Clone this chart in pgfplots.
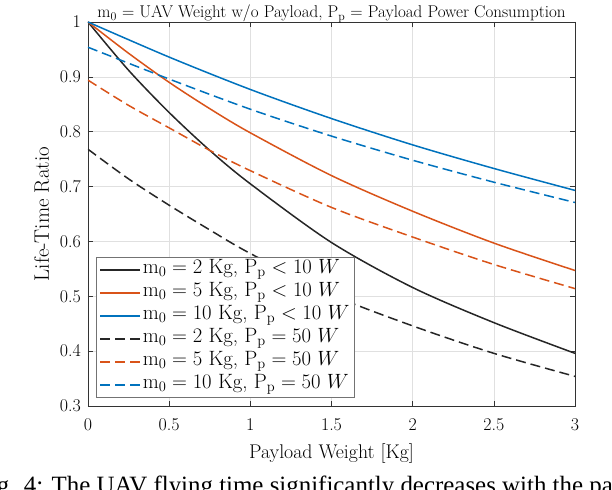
\documentclass[border=0pt]{standalone}
\usepackage{fontspec}
\newfontfamily\capfont{Liberation Serif}
\usepackage{pgfplots}
\pgfplotsset{compat=1.18}
\definecolor{mblue}{HTML}{0072BD}
\definecolor{morange}{HTML}{D95319}
\definecolor{mblack}{HTML}{262626}
\begin{document}
\begin{tikzpicture}
\begin{axis}[
  at={(0,0)}, anchor=south west,
  scale only axis, width=487bp, height=384bp,
  xmin=0, xmax=3, ymin=0.3, ymax=1,
  xtick={0,0.5,1,1.5,2,2.5,3},
  ytick={0.3,0.4,0.5,0.6,0.7,0.8,0.9,1},
  xticklabels={0,0.5,1,1.5,2,2.5,3},
  yticklabels={0.3,0.4,0.5,0.6,0.7,0.8,0.9,1},
  tick align=inside, xtick pos=both, ytick pos=both,
  major tick length=5bp,
  tick style={black!80, line width=0.6bp},
  axis line style={black!80, line width=0.8bp},
  grid=major, grid style={black!12, line width=0.6bp},
  xticklabel style={font=\fontsize{18}{21}\selectfont, inner sep=0pt, anchor=north, yshift=-12bp},
  yticklabel style={font=\fontsize{18}{21}\selectfont, inner sep=0pt, anchor=east, xshift=-7bp},
  title={$\mathrm{m_0}$ = UAV Weight w/o Payload, $\mathrm{P_p}$ = Payload Power Consumption},
  title style={font=\fontsize{17.1}{20}\selectfont, at={(axis description cs:0.5,1)}, anchor=base, yshift=-1.5bp, inner sep=0pt},
  xlabel={Payload Weight [Kg]},
  xlabel style={font=\fontsize{19.9}{23}\selectfont, at={(axis description cs:0.5,-0.138)}, anchor=base, inner sep=0pt},
  ylabel={Life-Time Ratio},
  ylabel style={font=\fontsize{21}{24}\selectfont, at={(axis description cs:-0.0801,0.5)}, anchor=base, rotate=0, inner sep=0pt},
  legend cell align=left,
  legend style={at={(axis description cs:0,0)}, anchor=south west, xshift=8bp, yshift=8bp,
    draw=black!55, fill=white, line width=0.7bp,
    font=\fontsize{20.8}{24}\selectfont, row sep=0pt, inner xsep=3bp, inner ysep=1bp,
    nodes={inner ysep=0pt, text height=15bp, text depth=8bp}},
  legend image code/.code={\draw[#1, line width=1.5bp] plot coordinates {(0bp,0bp) (40bp,0bp)};},
  every axis plot/.append style={line width=1.5bp, smooth},
]
\addplot[mblack, solid] coordinates {(0,1) (0.25,0.912) (0.5,0.835) (0.75,0.766) (1,0.705) (1.5,0.598) (2,0.516) (2.5,0.452) (3,0.396)};
\addlegendentry{$\mathrm{m_0} = 2$ Kg, $\mathrm{P_p} < 10\ W$}
\addplot[morange, solid] coordinates {(0,1) (0.25,0.943) (0.5,0.890) (0.75,0.842) (1,0.798) (1.5,0.720) (2,0.655) (2.5,0.597) (3,0.547)};
\addlegendentry{$\mathrm{m_0} = 5$ Kg, $\mathrm{P_p} < 10\ W$}
\addplot[mblue, solid] coordinates {(0,1) (0.5,0.936) (1,0.877) (1.5,0.824) (2,0.776) (2.5,0.733) (3,0.693)};
\addlegendentry{$\mathrm{m_0} = 10$ Kg, $\mathrm{P_p} < 10\ W$}
\addplot[mblack, dash pattern=on 10bp off 5bp] coordinates {(0,0.768) (0.25,0.714) (0.5,0.666) (0.75,0.621) (1,0.578) (1.5,0.503) (2,0.446) (2.5,0.396) (3,0.354)};
\addlegendentry{$\mathrm{m_0} = 2$ Kg, $\mathrm{P_p} = 50\ W$}
\addplot[morange, dash pattern=on 10bp off 5bp] coordinates {(0,0.894) (0.25,0.848) (0.5,0.807) (0.75,0.766) (1,0.729) (1.5,0.662) (2,0.608) (2.5,0.558) (3,0.514)};
\addlegendentry{$\mathrm{m_0} = 5$ Kg, $\mathrm{P_p} = 50\ W$}
\addplot[mblue, dash pattern=on 10bp off 5bp] coordinates {(0,0.954) (0.5,0.896) (1,0.841) (1.5,0.792) (2,0.748) (2.5,0.708) (3,0.671)};
\addlegendentry{$\mathrm{m_0} = 10$ Kg, $\mathrm{P_p} = 50\ W$}
\end{axis}
\begin{scope}
\clip (-88bp,-84bp) rectangle (524bp,406bp);
\node[overlay, anchor=base west, inner sep=0pt, font=\capfont\fontsize{25}{28}\selectfont] at (-112bp,-87bp) {Fig. 4: The UAV flying time significantly decreases with the payload weight};
\end{scope}
\pgfresetboundingbox
\useasboundingbox (-88bp,-84bp) rectangle (524bp,406bp);
\end{tikzpicture}
\end{document}
